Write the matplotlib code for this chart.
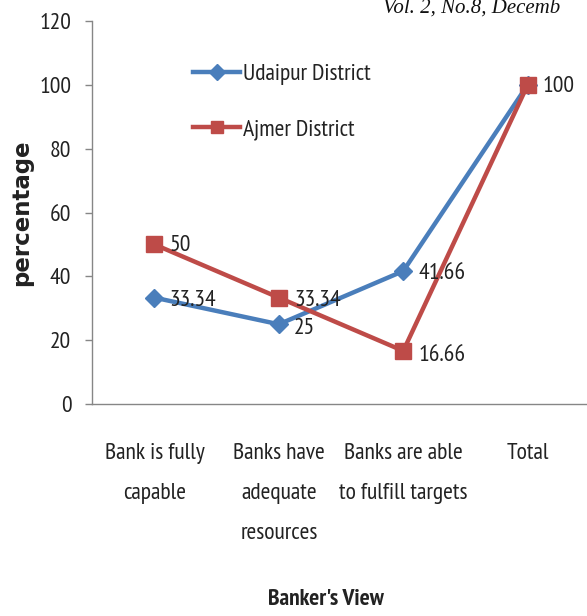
import matplotlib
matplotlib.use("Agg")
import matplotlib.pyplot as plt
from matplotlib import font_manager as fm

categories = ["Bank is fully\ncapable", "Banks have\nadequate\nresources",
              "Banks are able\nto fulfill targets", "Total"]
udaipur = [33.34, 25, 41.66, 100]
ajmer = [50, 33.34, 16.66, 100]
udaipur_labels = ["33.34", "25", "41.66", "100"]
ajmer_labels = ["50", "33.34", "16.66", ""]
yticks = [0, 20, 40, 60, 80, 100, 120]

available = {f.name for f in fm.fontManager.ttflist}
cands = ["PT Sans Narrow", "Archivo Narrow", "Roboto Condensed", "Asap Condensed",
         "Barlow Condensed", "Liberation Sans Narrow"]
NARROW = next((c for c in cands if c in available), "DejaVu Sans")
FONT = [NARROW, "DejaVu Sans"]
plt.rcParams['font.family'] = FONT
TXT = "#222222"
BLUE = "#4A7EBB"
RED = "#BE4B48"
GREY = "#868686"

fig = plt.figure(figsize=(5.87, 6.16), dpi=100)
ax = fig.add_axes([0.157, 0.344, 0.848, 0.622])

x = list(range(len(categories)))
ax.plot(x, udaipur, color=BLUE, lw=3.2, marker="D", ms=9, mec=BLUE, mfc=BLUE,
        label="Udaipur District", zorder=3)
ax.plot(x, ajmer, color=RED, lw=3.2, marker="s", ms=11, mec=RED, mfc=RED,
        label="Ajmer District", zorder=4)

off_u = [(11, -2), (11, -3), (11, -2), (11, -1)]
off_a = [(11, -1), (11, -2), (11, -3), (11, 0)]
for i in x:
    if udaipur_labels[i]:
        ax.annotate(udaipur_labels[i], (i, udaipur[i]), xytext=off_u[i],
                    textcoords="offset points", va="center", ha="left",
                    fontsize=17, color=TXT, zorder=5)
    if ajmer_labels[i]:
        ax.annotate(ajmer_labels[i], (i, ajmer[i]), xytext=off_a[i],
                    textcoords="offset points", va="center", ha="left",
                    fontsize=17, color=TXT, zorder=5)

ax.set_xlim(-0.5, 3.5)
ax.set_ylim(0, 120)
ax.set_yticks(yticks)
ax.set_yticklabels([str(v) for v in yticks], fontsize=17, color=TXT)
ax.set_xticks(x)
ax.set_xticklabels(categories, fontsize=17, color=TXT, linespacing=2.2, va="top")
ax.tick_params(axis="x", length=0, pad=28)
ax.tick_params(axis="y", length=5, color=GREY, width=1, pad=10)
for s in ["top", "right"]:
    ax.spines[s].set_visible(False)
for s in ["left", "bottom"]:
    ax.spines[s].set_color(GREY)
    ax.spines[s].set_linewidth(1)

ax.set_ylabel("percentage", fontsize=16.5, fontweight="bold", family=["DejaVu Sans"],
              color=TXT)
ax.yaxis.set_label_coords(-0.118, 0.5)
fig.text(0.555, 0.027, "Banker's View", fontsize=17, fontweight="bold",
         ha="center", va="center", color=TXT)

leg = ax.legend(loc="upper left", bbox_to_anchor=(0.16, 0.945), frameon=False,
                fontsize=17, handlelength=2.0, handletextpad=0.1, labelspacing=1.45,
                markerscale=0.85)
for t in leg.get_texts():
    t.set_color(TXT)

fig.text(0.652, 1 - 13 / 616, "Vol. 2, No.8, Decemb", fontsize=15,
         family=["Liberation Serif", "DejaVu Serif"], style="italic",
         ha="left", va="baseline", color="#111111")

fig.savefig("out.png", dpi=100)
